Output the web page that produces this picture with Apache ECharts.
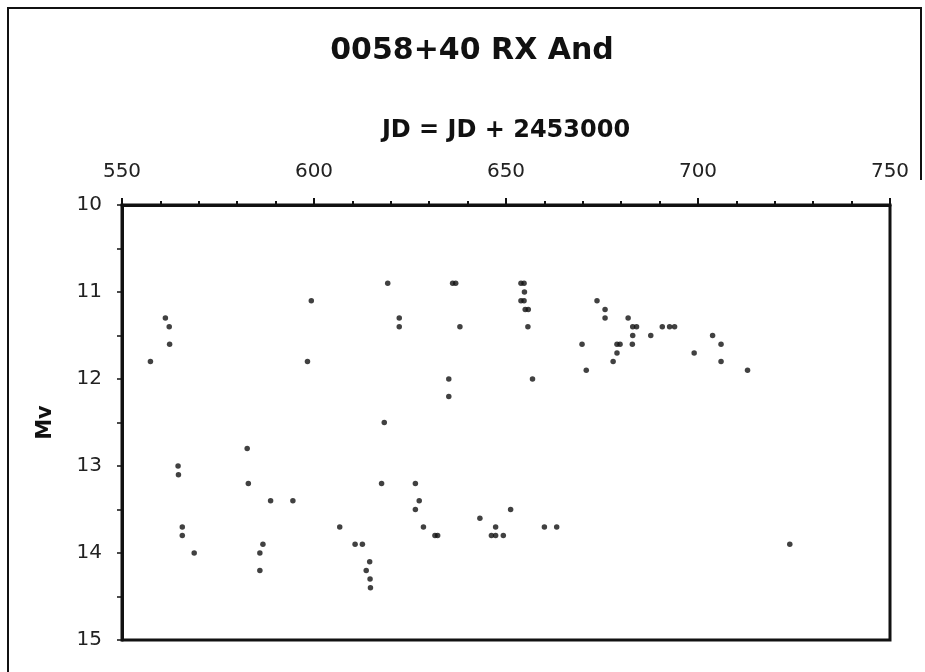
<!DOCTYPE html>
<html>
<head>
<meta charset="utf-8">
<script src="https://cdn.jsdelivr.net/npm/echarts@6/dist/echarts.min.js"></script>
<style>
  html, body { margin: 0; padding: 0; background: #fff; }
  #main { width: 925px; height: 672px; }
</style>
</head>
<body>
<div id="main"></div>
<script>
// JD - 2453000 and visual magnitude
var jd = [557.4, 561.3, 562.3, 562.4, 564.6, 564.7, 565.7, 565.7, 568.8, 582.6,
          582.9, 585.9, 585.9, 586.7, 588.7, 594.5, 598.3, 599.3, 606.7, 610.7,
          612.6, 613.6, 614.5, 614.6, 614.7, 617.6, 618.3, 619.2, 622.2, 622.2,
          626.4, 626.4, 627.4, 628.5, 631.5, 632.2, 635.1, 635.1, 636.1, 636.9,
          638.0, 643.2, 646.2, 647.3, 647.3, 649.3, 651.2, 653.9, 654.7, 654.8,
          653.9, 654.7, 655.0, 655.8, 655.7, 656.9, 660.0, 663.2, 669.8, 670.9,
          673.7, 675.8, 675.8, 677.9, 678.9, 679.7, 678.9, 681.8, 682.9, 683.0,
          683.0, 684.0, 687.7, 690.7, 692.6, 693.9, 699.0, 703.8, 706.0, 706.0,
          712.9, 723.9];
var mv = [11.8, 11.3, 11.4, 11.6, 13.0, 13.1, 13.7, 13.8, 14.0, 12.8,
          13.2, 14.0, 14.2, 13.9, 13.4, 13.4, 11.8, 11.1, 13.7, 13.9,
          13.9, 14.2, 14.1, 14.3, 14.4, 13.2, 12.5, 10.9, 11.3, 11.4,
          13.2, 13.5, 13.4, 13.7, 13.8, 13.8, 12.0, 12.2, 10.9, 10.9,
          11.4, 13.6, 13.8, 13.7, 13.8, 13.8, 13.5, 10.9, 10.9, 11.0,
          11.1, 11.1, 11.2, 11.2, 11.4, 12.0, 13.7, 13.7, 11.6, 11.9,
          11.1, 11.2, 11.3, 11.8, 11.6, 11.6, 11.7, 11.3, 11.6, 11.5,
          11.4, 11.4, 11.5, 11.4, 11.4, 11.4, 11.7, 11.5, 11.6, 11.8,
          11.9, 13.9];

var points = [];
for (var i = 0; i < jd.length; i++) {
    points.push([jd[i], mv[i]]);
}

var myChart = echarts.init(document.getElementById('main'));

myChart.setOption({
    animation: false,
    backgroundColor: '#fff',
    textStyle: { fontFamily: 'DejaVu Sans' },
    title: {
        text: '0058+40 RX And',
        left: 467,
        top: 31,
        textAlign: 'center',
        textStyle: { fontSize: 30, fontWeight: 'bold', color: '#111', fontFamily: 'DejaVu Sans' }
    },
    graphic: [{
        type: 'polyline',
        shape: { points: [[8, 672], [8, 8], [921, 8], [921, 180]] },
        style: { stroke: '#111', lineWidth: 2, fill: null }
    }],
    grid: {
        left: 122,
        right: 35,
        top: 205,
        bottom: 32,
        show: true,
        borderColor: '#111',
        borderWidth: 3
    },
    xAxis: {
        type: 'value',
        position: 'top',
        min: 550,
        max: 750,
        interval: 50,
        name: 'JD = JD + 2453000',
        nameLocation: 'middle',
        nameGap: 62,
        nameTextStyle: { fontSize: 24, fontWeight: 'bold', color: '#111' },
        axisLine: { lineStyle: { color: '#111', width: 3 } },
        axisTick: { inside: false, length: 7, lineStyle: { color: '#111', width: 2 } },
        minorTick: { show: true, splitNumber: 5, length: 4, lineStyle: { color: '#111', width: 2 } },
        axisLabel: { fontSize: 20, color: '#222', margin: 23 },
        splitLine: { show: false }
    },
    yAxis: {
        type: 'value',
        inverse: true,
        min: 10,
        max: 15,
        interval: 1,
        name: 'Mv',
        nameLocation: 'middle',
        nameGap: 66,
        nameRotate: 90,
        nameTextStyle: { fontSize: 21, fontWeight: 'bold', color: '#111' },
        axisLine: { lineStyle: { color: '#111', width: 3 } },
        axisTick: { inside: false, length: 5, lineStyle: { color: '#111', width: 1.5 } },
        minorTick: { show: true, splitNumber: 2, length: 5, lineStyle: { color: '#111', width: 1.5 } },
        axisLabel: { fontSize: 20, color: '#222', margin: 20 },
        splitLine: { show: false }
    },
    series: [{
        name: 'RX And',
        type: 'scatter',
        symbol: 'circle',
        symbolSize: 5.5,
        itemStyle: { color: '#111' },
        data: points
    }]
});
</script>
</body>
</html>
